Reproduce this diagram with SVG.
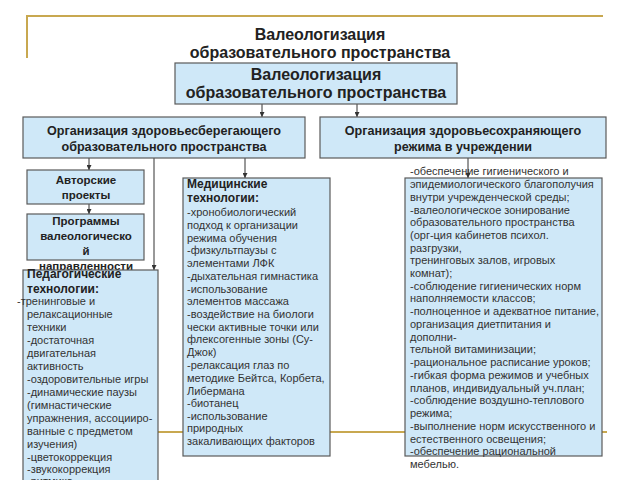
<svg xmlns="http://www.w3.org/2000/svg" width="640" height="480" viewBox="0 0 640 480">
<defs>
<marker id="arr" viewBox="0 0 6 6" refX="6" refY="3" markerWidth="5" markerHeight="5" orient="auto" markerUnits="userSpaceOnUse">
<path d="M0,0 L6,3 L0,6 z" fill="#333"/>
</marker>
<style>
.box{fill:#cfe8f8;stroke:#5a5a5a;stroke-width:1.2}
.t{font-family:"Liberation Sans",Arial,sans-serif;fill:#222}
.h{font-weight:bold;text-anchor:middle}
.b{font-size:11px;fill:#333}
.bh{font-size:12px;font-weight:bold;fill:#222}
.ln{stroke:#333;stroke-width:1;fill:none}
.gold{stroke:#c8a850;stroke-width:2;fill:none}
</style>
</defs>
<rect width="640" height="480" fill="#fff"/>
<g id="decor">
<path class="gold" d="M27,58 V16 H603"/>
<path class="gold" d="M27,432 H607"/>
</g>
<g id="title">
<text class="t h" x="320" y="40" font-size="16">Валеологизация</text>
<text class="t h" x="320" y="58" font-size="16">образовательного пространства</text>
</g>
<g id="connectors">
<path class="ln" d="M262,104 V117" marker-end="url(#arr)"/>
<path class="ln" d="M357,104 V117" marker-end="url(#arr)"/>
<path class="ln" d="M89,158 V170" marker-end="url(#arr)"/>
<path class="ln" d="M154,158 V270" marker-end="url(#arr)"/>
<path class="ln" d="M245,158 V178" marker-end="url(#arr)"/>
<path class="ln" d="M468,158 V178" marker-end="url(#arr)"/>
<path class="ln" d="M89,204 V214" marker-end="url(#arr)"/>
</g>
<g id="n-root">
<rect class="box" x="175" y="63" width="282" height="41"/>
<text class="t h" x="316" y="80" font-size="16">Валеологизация</text>
<text class="t h" x="316" y="98" font-size="16">образовательного пространства</text>
</g>
<g id="n-left">
<rect class="box" x="23" y="117" width="282" height="41"/>
<text class="t h" x="164" y="135" font-size="12.6">Организация здоровьесберегающего</text>
<text class="t h" x="164" y="151" font-size="12.6">образовательного пространства</text>
</g>
<g id="n-right">
<rect class="box" x="320" y="117" width="286" height="41"/>
<text class="t h" x="463" y="135" font-size="12.6">Организация здоровьесохраняющего</text>
<text class="t h" x="463" y="151" font-size="12.6">режима в учреждении</text>
</g>
<g id="n-author">
<rect class="box" x="27" y="170" width="117" height="34"/>
<text class="t h" x="86" y="184" font-size="11.5">Авторские</text>
<text class="t h" x="86" y="199" font-size="11.5">проекты</text>
</g>
<g id="n-programs">
<rect class="box" x="27" y="214" width="117" height="46"/>
<text class="t h" x="86" y="225" font-size="11.5">Программы</text>
<text class="t h" x="86" y="240" font-size="11.5">валеологическо</text>
<text class="t h" x="86" y="255" font-size="11.5">й</text>
<text class="t h" x="86" y="270" font-size="11.5">направленности</text>
</g>
<g id="n-pedag">
<rect class="box" x="23" y="270" width="135" height="215"/>
<text class="t bh" x="27" y="278">Педагогические</text>
<text class="t bh" x="27" y="293">технологии:</text>
<text class="t b" x="17" y="305">-тренинговые и</text>
<text class="t b" x="27" y="318">релаксационные</text>
<text class="t b" x="27" y="331">техники</text>
<text class="t b" x="27" y="344">-достаточная</text>
<text class="t b" x="27" y="357">двигательная</text>
<text class="t b" x="27" y="370">активность</text>
<text class="t b" x="27" y="383">-оздоровительные игры</text>
<text class="t b" x="27" y="396">-динамические паузы</text>
<text class="t b" x="27" y="409">(гимнастические</text>
<text class="t b" x="27" y="422">упражнения, ассоцииро-</text>
<text class="t b" x="27" y="435">ванные с предметом</text>
<text class="t b" x="27" y="448">изучения)</text>
<text class="t b" x="27" y="461">-цветокоррекция</text>
<text class="t b" x="27" y="473">-звукокоррекция</text>
<text class="t b" x="27" y="485">-ритмика</text>
</g>
<g id="n-medical">
<rect class="box" x="183" y="178" width="147" height="278"/>
<text class="t bh" x="187" y="188">Медицинские</text>
<text class="t bh" x="187" y="202">технологии:</text>
<text class="t b" x="187" y="216">-хронобиологический</text>
<text class="t b" x="187" y="229">подход к организации</text>
<text class="t b" x="187" y="242">режима обучения</text>
<text class="t b" x="187" y="254">-физкультпаузы с</text>
<text class="t b" x="187" y="267">элементами ЛФК</text>
<text class="t b" x="187" y="280">-дыхательная гимнастика</text>
<text class="t b" x="187" y="293">-использование</text>
<text class="t b" x="187" y="305">элементов массажа</text>
<text class="t b" x="187" y="318">-воздействие на биологи</text>
<text class="t b" x="187" y="331">чески активные точки или</text>
<text class="t b" x="187" y="343">флексогенные зоны (Су-</text>
<text class="t b" x="187" y="356">Джок)</text>
<text class="t b" x="187" y="369">-релаксация глаз по</text>
<text class="t b" x="187" y="382">методике Бейтса, Корбета,</text>
<text class="t b" x="187" y="395">Либермана</text>
<text class="t b" x="187" y="407">-биотанец</text>
<text class="t b" x="187" y="420">-использование</text>
<text class="t b" x="187" y="432">природных</text>
<text class="t b" x="187" y="445">закаливающих факторов</text>
</g>
<g id="n-regime">
<rect class="box" x="405" y="178" width="197" height="278"/>
<text class="t b" x="410" y="175">-обеспечение гигиенического и</text>
<text class="t b" x="410" y="188">эпидемиологического благополучия</text>
<text class="t b" x="410" y="201">внутри учрежденческой среды;</text>
<text class="t b" x="410" y="214">-валеологическое зонирование</text>
<text class="t b" x="410" y="226">образовательного пространства</text>
<text class="t b" x="410" y="239">(орг-ция кабинетов психол.</text>
<text class="t b" x="410" y="252">разгрузки,</text>
<text class="t b" x="410" y="264">тренинговых залов, игровых</text>
<text class="t b" x="410" y="277">комнат);</text>
<text class="t b" x="410" y="290">-соблюдение гигиенических норм</text>
<text class="t b" x="410" y="302">наполняемости классов;</text>
<text class="t b" x="410" y="315">-полноценное и адекватное питание,</text>
<text class="t b" x="410" y="328">организация диетпитания и</text>
<text class="t b" x="410" y="341">дополни-</text>
<text class="t b" x="410" y="353">тельной витаминизации;</text>
<text class="t b" x="410" y="366">-рациональное расписание уроков;</text>
<text class="t b" x="410" y="379">-гибкая форма режимов и учебных</text>
<text class="t b" x="410" y="392">планов, индивидуальный уч.план;</text>
<text class="t b" x="410" y="404">-соблюдение воздушно-теплового</text>
<text class="t b" x="410" y="417">режима;</text>
<text class="t b" x="410" y="430">-выполнение норм искусственного и</text>
<text class="t b" x="410" y="443">естественного освещения;</text>
<text class="t b" x="410" y="455">-обеспечение рациональной</text>
<text class="t b" x="410" y="468">мебелью.</text>
</g>
</svg>
